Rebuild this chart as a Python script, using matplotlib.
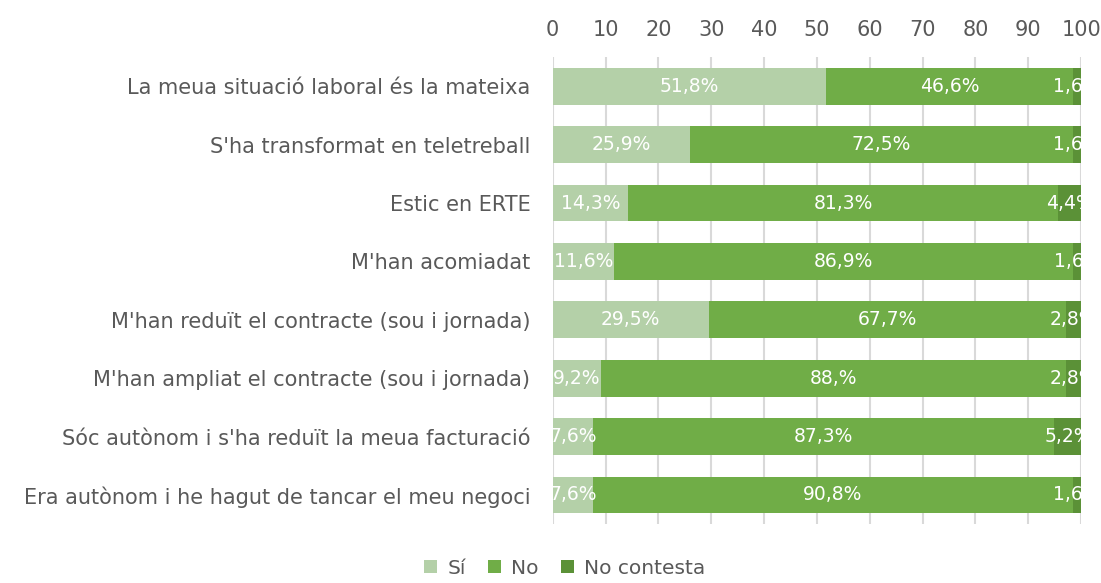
import numpy as np
import matplotlib.pyplot as plt

# data
categories = [
    "La meua situació laboral és la mateixa",
    "S'ha transformat en teletreball",
    "Estic en ERTE",
    "M'han acomiadat",
    "M'han reduït el contracte (sou i jornada)",
    "M'han ampliat el contracte (sou i jornada)",
    "Sóc autònom i s'ha reduït la meua facturació",
    "Era autònom i he hagut de tancar el meu negoci",
]
si = [51.8, 25.9, 14.3, 11.6, 29.5, 9.2, 7.6, 7.6]
no = [46.6, 72.5, 81.3, 86.9, 67.7, 88.0, 87.3, 90.8]
no_contesta = [1.6, 1.6, 4.4, 1.6, 2.8, 2.8, 5.2, 1.6]
series_names = ["Sí", "No", "No contesta"]
colors = ["#B4D0A8", "#70AD47", "#5B9137"]
xticks = [0, 10, 20, 30, 40, 50, 60, 70, 80, 90, 100]

GRAY = "#595959"


def fmt(v):
    # excel-ish "#,#%" format
    ip, dp = f"{v:.1f}".split(".")
    return f"{ip},{dp.rstrip('0')}%"


fig = plt.figure(figsize=(11.01, 5.83), dpi=100)
ax = fig.add_axes([0.502, 0.101, 0.480, 0.801])

y = np.arange(len(categories))
left = np.zeros(len(categories))
for name, vals, c in zip(series_names, [si, no, no_contesta], colors):
    vals = np.array(vals)
    ax.barh(y, vals, left=left, height=0.63, color=c, label=name, zorder=2)
    for yi, l, v in zip(y, left, vals):
        ax.text(l + v / 2, yi, fmt(v), ha="center", va="center",
                color="white", fontsize=13.5, clip_on=True, zorder=3)
    left += vals

ax.set_xlim(0, 100)
ax.set_ylim(len(categories) - 0.5, -0.5)
ax.set_yticks(y)
ax.set_yticklabels(categories, fontsize=15, color=GRAY)
ax.set_xticks(xticks)
ax.xaxis.tick_top()
ax.tick_params(axis="x", length=0, labelsize=15, labelcolor=GRAY, pad=12)
ax.tick_params(axis="y", length=0, pad=16)
ax.grid(axis="x", color="#D9D9D9", linewidth=1.5, zorder=0)
for s in ax.spines.values():
    s.set_visible(False)

fig.legend(loc="lower center", bbox_to_anchor=(0.513, -0.022), ncol=3,
           frameon=False, fontsize=14.5, labelcolor=GRAY,
           handlelength=0.65, handleheight=0.65, handletextpad=0.5, columnspacing=1.1)

fig.savefig("out.png", dpi=100)
